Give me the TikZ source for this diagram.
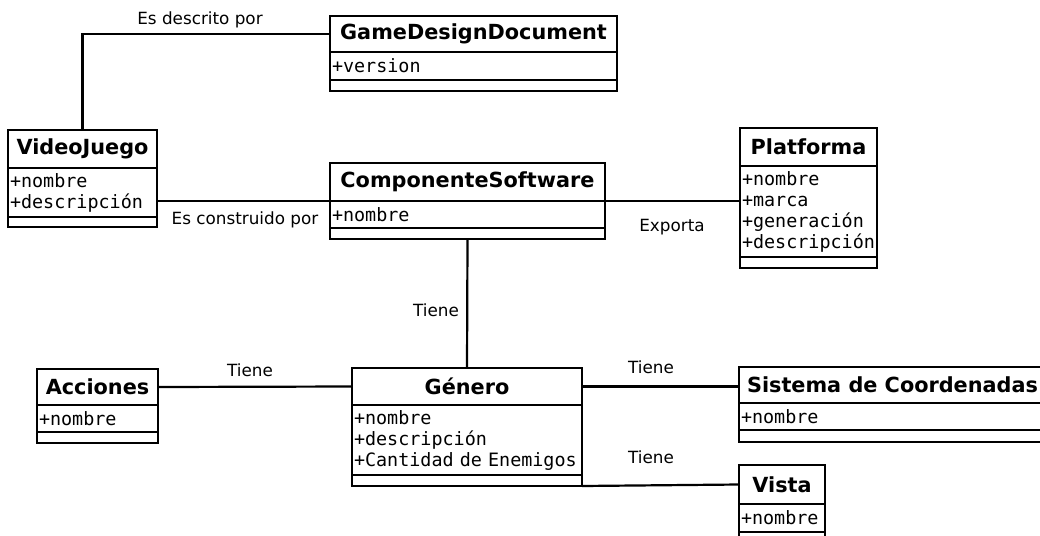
\documentclass[tikz,border=0pt]{standalone}
\usepackage{fontspec}
\setmainfont{DejaVu Sans}
\setmonofont{DejaVu Sans Mono}
\tikzset{
  box/.style={draw, line width=2.4pt, anchor=north west, inner sep=0pt, outer sep=0pt, fill=white},
  hdr/.style={box, font=\fontsize{20.8}{25}\selectfont\bfseries},
  attrbox/.style={box, font=\ttfamily\fontsize{18.4}{21}\selectfont, align=left, inner xsep=2pt, inner ysep=0pt},
  lbl/.style={font=\fontsize{16.8}{20}\selectfont, inner sep=0pt},
  conn/.style={line width=2.2pt}
}
\newcommand\umlcls[9]{%
  \pgfmathsetmacro\umltw{#4-4}%
  \node[hdr, minimum width=#4pt, minimum height=#5pt] (#1T) at (#2,#3) {#8};
  \node[attrbox, text width=\umltw pt, minimum height=#6pt] (#1A) at (#1T.south west) {#9};
  \node[box, minimum width=#4pt, minimum height=#7pt] (#1F) at (#1A.south west) {};
}
\begin{document}
\begin{tikzpicture}[x=1pt,y=-1pt]
\useasboundingbox (0,0) rectangle (1040,535);
\clip (0,0) rectangle (1040,535);
\fill[white] (0,0) rectangle (1040,535);

% classes
\umlcls{gdd}{330}{16}{287}{36}{28}{11}{GameDesignDocument}{+version}
\umlcls{vj}{8}{130}{149}{38}{49}{10}{VideoJuego}{+nombre\\+descripción}
\umlcls{cs}{330}{163}{275}{38}{27}{11}{ComponenteSoftware}{+nombre}
\umlcls{pl}{740}{128}{137}{38}{91}{11}{Platforma}{+nombre\\+marca\\+generación\\+descripción}
\umlcls{ac}{37}{369}{121}{36}{27}{11}{Acciones}{+nombre}
\umlcls{ge}{352}{368}{230}{37}{70}{11}{Género}{+nombre\\+descripción\\+Cantidad de Enemigos}
\umlcls{si}{739}{367}{307}{36}{27}{12}{Sistema de Coordenadas}{+nombre}
\umlcls{vi}{739}{465}{86}{39}{28}{11}{Vista}{+nombre}

% connectors
\draw[conn] (gddT.west) -| (vjT.north);
\draw[conn] (csT.south west) -- (csT.south west -| vjA.east);
\draw[conn] (csT.south east) -- (csT.south east -| plA.west);
\draw[conn] (csF.south) -- (geT.north);
\draw[conn] (acT.east) -- (geT.west);
\draw[conn] (geT.east) -- (geT.east -| siT.west);
\draw[conn] (geF.south east) -- (viT.west);

% labels
\node[lbl] (l1) at (200,20) {Es descrito por};
\node[lbl] (l2) at (245,220) {Es construido por};
\node[lbl] (l3) at (672,227) {Exporta};
\node[lbl] (l4) at (436,310) {Tiene};
\node[lbl] (l5) at (250,370) {Tiene};
\node[lbl] (l6) at (651,367) {Tiene};
\node[lbl] (l7) at (651,457) {Tiene};
\end{tikzpicture}
\end{document}
